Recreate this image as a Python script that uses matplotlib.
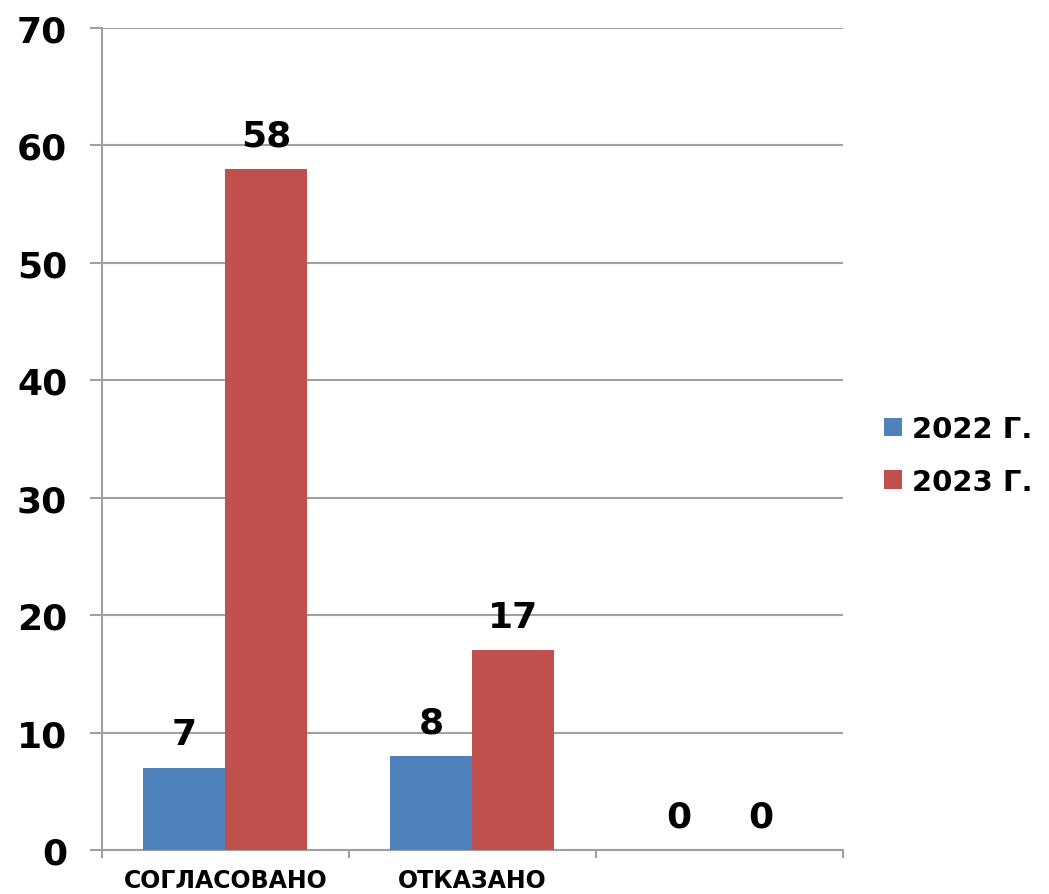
import matplotlib
matplotlib.use("Agg")
import matplotlib.pyplot as plt
import numpy as np

categories = ["СОГЛАСОВАНО", "ОТКАЗАНО", ""]
series_names = ["2022 Г.", "2023 Г."]
values_2022 = [7, 8, 0]
values_2023 = [58, 17, 0]
colors = ["#4F81BD", "#C0504D"]
yticks = [0, 10, 20, 30, 40, 50, 60, 70]

plt.rcParams['font.family'] = ['DejaVu Sans']
fig = plt.figure(figsize=(10.49, 8.95), dpi=100)
ax = fig.add_axes([0.0972, 0.0492, 0.8036 - 0.0972, 0.9676 - 0.0492])

x = np.arange(len(categories))
w = 0.332
b1 = ax.bar(x - w / 2, values_2022, w, color=colors[0], label=series_names[0], zorder=3)
b2 = ax.bar(x + w / 2, values_2023, w, color=colors[1], label=series_names[1], zorder=3)

for bars, vals in ((b1, values_2022), (b2, values_2023)):
    for r, v in zip(bars, vals):
        ax.annotate(str(v), (r.get_x() + r.get_width() / 2, v), xytext=(0, 12),
                    textcoords="offset points", ha="center", va="bottom",
                    fontsize=26, fontweight="bold", color="black")

ax.set_xlim(-0.5, 2.5)
ax.set_ylim(0, 70)
ax.set_yticks(yticks)
ax.set_yticklabels([str(t) for t in yticks], fontsize=26, fontweight="bold")
ax.yaxis.grid(True, color="#A0A0A0", linewidth=1.5, zorder=0)
ax.set_axisbelow(True)

ax.set_xticks(x)
ax.set_xticklabels(categories, fontsize=17, fontweight="bold")
ax.tick_params(axis="x", which="major", length=0, pad=13)
ax.set_xticks(np.arange(-0.5, 3.0, 1.0), minor=True)
ax.tick_params(axis="x", which="minor", length=6, width=1.5, color="#A0A0A0", direction="out")
ax.tick_params(axis="y", length=9, width=1.5, color="#A0A0A0", pad=16)

for s in ("top", "right"):
    ax.spines[s].set_visible(False)
for s in ("left", "bottom"):
    ax.spines[s].set_color("#A0A0A0")
    ax.spines[s].set_linewidth(1.5)

leg = fig.legend(handles=[b1, b2], labels=series_names, loc="center left",
                 bbox_to_anchor=(0.843, 0.49), frameon=False, borderaxespad=0,
                 borderpad=0, prop={"size": 21, "weight": "bold"}, handlelength=0.6,
                 handleheight=0.6, handletextpad=0.35, labelspacing=0.85)

fig.savefig("out.png", dpi=100)
